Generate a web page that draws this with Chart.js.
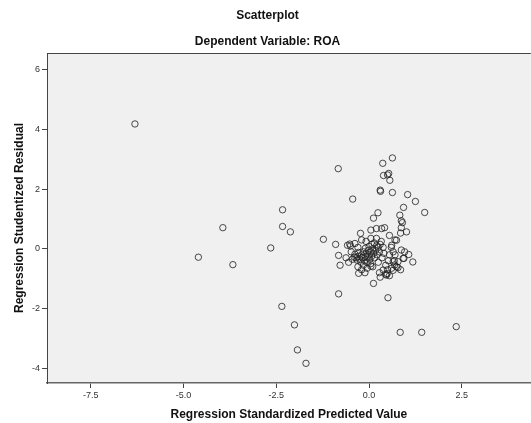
<!DOCTYPE html>
<html>
<head>
<meta charset="utf-8">
<script src="https://cdn.jsdelivr.net/npm/chart.js@4/dist/chart.umd.min.js"></script>
<style>
  html, body { margin: 0; padding: 0; background: #fff; overflow: hidden; }
  #wrap { width: 531px; height: 423px; overflow: hidden; }
  canvas { display: block; }
</style>
</head>
<body>
<div id="wrap"><canvas id="chart" width="535" height="423"></canvas></div>
<script>
// Valores: [valor pronosticado estandarizado, residuo studentizado]
const leftPoints = [
    [-6.31, 4.19], [-2.33, 1.31], [-3.94, 0.71], [-2.33, 0.75], [-2.12, 0.57], [-2.65, 0.03],
    [-4.60, -0.28], [-3.67, -0.53], [-2.35, -1.93], [-2.01, -2.55], [-1.93, -3.39], [-1.70, -3.84]
];
const upperPoints = [
    [0.63, 3.05], [0.37, 2.87], [-0.83, 2.69], [0.39, 2.46], [0.53, 2.53], [0.50, 2.48], [0.56, 2.30],
    [0.30, 1.97], [0.31, 1.93], [0.63, 1.89], [1.04, 1.82], [-0.44, 1.67], [1.25, 1.59], [0.93, 1.39],
    [1.50, 1.22], [0.24, 1.21], [0.12, 1.03], [0.83, 1.13], [0.87, 0.94], [0.90, 0.88], [0.87, 0.71],
    [0.85, 0.53], [1.01, 0.57], [0.42, 0.71], [-0.23, 0.52], [0.05, 0.63], [0.20, 0.68], [0.34, 0.68],
    [0.74, 0.29]
];
const midPoints = [
    [-1.23, 0.32], [-0.90, 0.15], [-0.82, -0.22], [-0.78, -0.55], [-0.52, 0.16], [-0.38, 0.18],
    [1.18, -0.44], [1.07, -0.19], [0.96, -0.10], [0.87, -0.04], [0.94, -0.32], [0.78, -0.43],
    [0.69, -0.54], [0.61, -0.65], [0.78, -0.63], [0.47, -0.88], [0.38, -0.71], [0.65, -0.10], [0.61, 0.12]
];
const lowerPoints = [
    [0.12, -1.16], [-0.82, -1.51], [0.51, -1.64], [0.84, -2.80], [1.42, -2.80], [2.35, -2.61]
];
const clusterPoints = [
    [-0.35, -0.30], [-0.30, -0.25], [-0.25, -0.35], [-0.20, -0.20], [-0.18, -0.30], [-0.15, -0.10],
    [-0.12, -0.40], [-0.10, -0.25], [-0.08, -0.15], [-0.05, -0.30], [-0.02, -0.05], [0.00, -0.20],
    [0.02, -0.35], [0.05, -0.10], [0.07, -0.25], [0.10, 0.00], [0.12, -0.15], [0.15, -0.30],
    [0.18, -0.05], [0.20, 0.10], [0.22, -0.20], [0.25, 0.05], [-0.28, -0.12], [-0.22, -0.45],
    [-0.32, -0.38], [-0.40, -0.28], [-0.45, -0.35], [-0.38, -0.18], [0.00, 0.08], [0.08, 0.15],
    [-0.10, 0.02], [0.14, 0.20], [0.28, -0.10], [0.30, 0.15], [-0.05, -0.45], [0.04, -0.50],
    [-0.15, -0.55], [-0.30, 0.05], [-0.48, -0.10], [-0.50, 0.10], [-0.58, 0.12], [-0.62, -0.30],
    [-0.55, -0.45], [-0.30, -0.60], [-0.20, -0.70], [-0.05, -0.65], [0.10, -0.60], [0.25, -0.45],
    [0.35, -0.30], [0.40, -0.15], [0.38, 0.05], [0.33, 0.25], [0.20, 0.35], [0.05, 0.35],
    [-0.08, 0.25], [-0.20, 0.30], [0.45, -0.55], [0.50, -0.70], [0.45, -0.85], [0.55, -0.90],
    [0.28, -0.80], [-0.28, -0.82], [-0.11, -0.80], [0.30, -0.95], [0.52, -0.40], [0.55, -0.20],
    [0.60, 0.05], [0.70, -0.20], [0.68, -0.40], [0.74, -0.60], [0.85, -0.70], [0.70, 0.30],
    [0.55, 0.45], [0.92, -0.32], [0.65, -0.43], [0.05, -0.58], [0.49, -0.83], [0.65, -0.72]
];
const xTickValues = [-7.5, -5.0, -2.5, 0.0, 2.5];
const yTickValues = [-4, -2, 0, 2, 4, 6];

const allPoints = [].concat(leftPoints, upperPoints, midPoints, lowerPoints, clusterPoints)
    .map(p => ({ x: p[0], y: p[1] }));

// Fondo gris del área de trazado y línea superior
const plotBackground = {
    id: 'plotBackground',
    beforeDraw(chart) {
        const { ctx, chartArea: a } = chart;
        ctx.save();
        ctx.fillStyle = '#f0f0f0';
        ctx.fillRect(a.left, a.top, a.right - a.left, a.bottom - a.top);
        ctx.strokeStyle = '#444';
        ctx.lineWidth = 1;
        ctx.beginPath();
        ctx.moveTo(a.left, a.top + 0.5);
        ctx.lineTo(a.right, a.top + 0.5);
        ctx.stroke();
        ctx.restore();
    }
};

const FONT = '"Liberation Sans", Arial, sans-serif';

new Chart(document.getElementById('chart'), {
    type: 'scatter',
    data: {
        datasets: [{
            data: allPoints,
            pointStyle: 'circle',
            pointRadius: 3.2,
            pointHoverRadius: 3.2,
            borderWidth: 1,
            borderColor: 'rgba(30,30,30,0.8)',
            backgroundColor: 'rgba(0,0,0,0)'
        }]
    },
    options: {
        responsive: false,
        animation: false,
        layout: { padding: 0 },
        plugins: {
            legend: { display: false },
            tooltip: { enabled: false },
            title: {
                display: true,
                text: 'Scatterplot',
                color: '#111',
                font: { family: FONT, size: 12, weight: 'bold' },
                padding: { top: 8, bottom: 0 }
            },
            subtitle: {
                display: true,
                text: 'Dependent Variable: ROA',
                color: '#111',
                font: { family: FONT, size: 12, weight: 'bold' },
                padding: { top: 12.4, bottom: 3.8 }
            }
        },
        scales: {
            x: {
                type: 'linear',
                min: -8.68,
                max: 4.36,
                afterFit: s => { s.height = 40; },
                afterBuildTicks: s => { s.ticks = xTickValues.map(v => ({ value: v })); },
                ticks: {
                    color: '#333',
                    font: { family: FONT, size: 9 },
                    padding: 2,
                    maxRotation: 0,
                    callback: v => v.toFixed(1)
                },
                grid: { drawOnChartArea: false, drawTicks: true, tickLength: 5, color: '#444' },
                border: { display: true, color: '#666', width: 1.5 },
                title: {
                    display: true,
                    text: 'Regression Standardized Predicted Value',
                    color: '#111',
                    font: { family: FONT, size: 12, weight: 'bold' },
                    padding: { top: 1, bottom: 1 }
                }
            },
            y: {
                type: 'linear',
                min: -4.5,
                max: 6.57,
                afterFit: s => { s.width = 47; },
                afterBuildTicks: s => { s.ticks = yTickValues.map(v => ({ value: v })); },
                ticks: {
                    color: '#333',
                    font: { family: FONT, size: 9 },
                    padding: 2,
                    callback: v => String(v)
                },
                grid: { drawOnChartArea: false, drawTicks: true, tickLength: 5, color: '#444' },
                border: { display: true, color: '#444', width: 1 },
                title: {
                    display: true,
                    text: 'Regression Studentized Residual',
                    color: '#111',
                    font: { family: FONT, size: 12, weight: 'bold' },
                    padding: { top: 12, bottom: 0 }
                }
            }
        }
    },
    plugins: [plotBackground]
});
</script>
</body>
</html>
